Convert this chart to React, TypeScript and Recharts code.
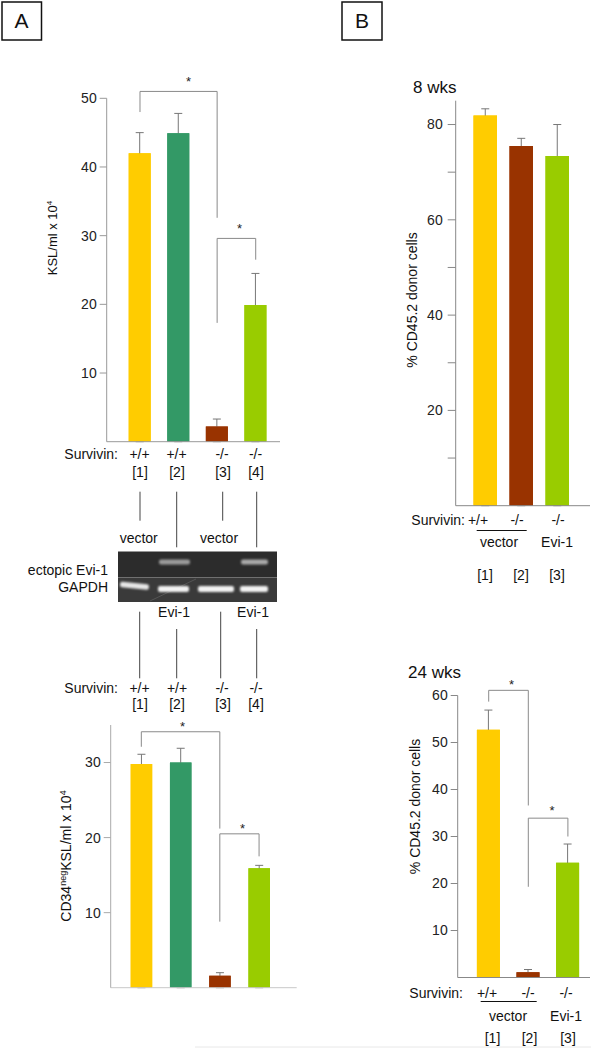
import React from 'react';
import { BarChart, Bar, XAxis, YAxis, ErrorBar, Cell, ReferenceLine } from 'recharts';

const FONT = '"Liberation Sans", Arial, Helvetica, sans-serif';

// ---- Panel A data ----
const groupsA = ['[1]', '[2]', '[3]', '[4]'];
const genotypeA = ['+/+', '+/+', '-/-', '-/-'];
const colorsA = ['#FFCC00', '#339966', '#993300', '#99CC00'];
const kslValues = [42.0, 44.9, 2.2, 19.9];
const kslErrors = [3.0, 2.9, 1.1, 4.6];
const cd34Values = [29.8, 30.0, 1.6, 15.9];
const cd34Errors = [1.3, 1.9, 0.4, 0.4];
const kslTicks = [10, 20, 30, 40, 50];
const cd34Ticks = [10, 20, 30];

// ---- Panel B data ----
const groupsB = ['[1]', '[2]', '[3]'];
const genotypeB = ['+/+', '-/-', '-/-'];
const colorsB = ['#FFCC00', '#993300', '#99CC00'];
const wk8Values = [81.9, 75.5, 73.4];
const wk8Errors = [1.4, 1.6, 6.6];
const wk24Values = [52.7, 1.1, 24.4];
const wk24Errors = [4.2, 0.6, 4.0];
const wk8Ticks = [10, 20, 30, 40, 50, 60, 70, 80];
const wk24Ticks = [10, 20, 30, 40, 50, 60];

type Bracket = { from: string; to: string; top: number; fromEnd: number; toEnd: number; dx: number; off: number };
const kslBrackets: Bracket[] = [
  { from: '[1]', to: '[3]', top: 51, fromEnd: 48, toEnd: 32.6, dx: 10, off: 5 },
  { from: '[3]', to: '[4]', top: 29.6, fromEnd: 17.3, toEnd: 26.5, dx: 3, off: 5 },
];
const cd34Brackets: Bracket[] = [
  { from: '[1]', to: '[3]', top: 34.1, fromEnd: 32.1, toEnd: 21.2, dx: 2, off: 1 },
  { from: '[3]', to: '[4]', top: 20.5, fromEnd: 8.8, toEnd: 17.5, dx: 3, off: 1 },
];
const wk24Brackets: Bracket[] = [
  { from: '[1]', to: '[2]', top: 61.1, fromEnd: 58.7, toEnd: 36.6, dx: 3, off: 1 },
  { from: '[2]', to: '[3]', top: 33.9, fromEnd: 19.3, toEnd: 30, dx: 4, off: 3 },
];

// error bars are one-sided (upward): the lower arm runs down to the baseline and is hidden under the cover bar
const table = (groups: string[], values: number[], errors: number[]) =>
  groups.map((g, i) => ({ g, v: values[i], e: [values[i], errors[i]] }));

function bracketLines(b: Bracket, key: string) {
  const common = { stroke: '#8a8a8a', strokeWidth: 1, ifOverflow: 'visible' as const };
  return [
    <ReferenceLine
      key={key + 'h'}
      segment={[{ x: b.from, y: b.top }, { x: b.to, y: b.top }]}
      {...common}
      label={{ value: '*', position: 'top', offset: b.off, fontSize: 13, fill: '#222', dx: b.dx }}
    />,
    <ReferenceLine key={key + 'l'} segment={[{ x: b.from, y: b.top }, { x: b.from, y: b.fromEnd }]} {...common} />,
    <ReferenceLine key={key + 'r'} segment={[{ x: b.to, y: b.top }, { x: b.to, y: b.toEnd }]} {...common} />,
  ];
}

type ChartProps = {
  left: number; top: number; width: number; height: number;
  margin: { top: number; right: number; bottom: number; left: number };
  data: { g: string; v: number; e: number[] }[];
  colors: string[];
  domain: [number, number];
  ticks: number[];
  tickFmt?: (v: number) => string;
  padding: { left: number; right: number };
  barSize: number;
  tickSize: number;
  tickMargin: number;
  brackets?: Bracket[];
  axisColor?: string;
  xAxisColor?: string;
};

function Chart(p: ChartProps) {
  return (
    <div style={{ position: 'absolute', left: p.left, top: p.top }}>
      <BarChart width={p.width} height={p.height} data={p.data} margin={p.margin}>
        <XAxis
          dataKey="g"
          type="category"
          tick={false}
          tickLine={false}
          height={1}
          padding={p.padding}
          axisLine={{ stroke: p.xAxisColor || '#888' }}
        />
        <XAxis xAxisId="cover" dataKey="g" type="category" hide padding={p.padding} />
        <YAxis
          type="number"
          domain={p.domain}
          allowDataOverflow
          ticks={p.ticks}
          interval={0}
          width={40}
          tickSize={p.tickSize}
          tickMargin={p.tickMargin}
          tickFormatter={p.tickFmt}
          axisLine={{ stroke: p.axisColor || '#888' }}
          tickLine={{ stroke: p.axisColor || '#888' }}
          tick={{ fontSize: 14, fill: '#222' }}
        />
        <Bar dataKey="v" barSize={p.barSize} isAnimationActive={false}>
          {p.data.map((d, i) => (
            <Cell key={d.g} fill={p.colors[i]} />
          ))}
          <ErrorBar dataKey="e" width={4} stroke="#777" strokeWidth={1} direction="y" isAnimationActive={false} />
        </Bar>
        <Bar xAxisId="cover" dataKey="v" barSize={p.barSize} isAnimationActive={false} zIndex={450}>
          {p.data.map((d, i) => (
            <Cell key={d.g} fill={p.colors[i]} />
          ))}
        </Bar>
        {(p.brackets || []).flatMap((b, i) => bracketLines(b, 'b' + i))}
      </BarChart>
    </div>
  );
}

const T = (props: any) => <text fontSize={14} fill="#111" {...props} />;

export default function App() {
  const kslData = table(groupsA, kslValues, kslErrors);
  const cd34Data = table(groupsA, cd34Values, cd34Errors);
  const wk8Data = table(groupsB, wk8Values, wk8Errors);
  const wk24Data = table(groupsB, wk24Values, wk24Errors);

  const topRowX = [139.5, 176.5, 222, 255.5];
  const idxX = [140, 177, 223, 256];
  const bTopGenoX = [478, 517, 558];
  const bTopIdxX = [485, 521, 557];
  const bBotGenoX = [487, 528, 566];
  const bBotIdxX = [492.5, 529.5, 568];

  return (
    <div
      style={{
        position: 'absolute', left: 0, top: 0, width: 591, height: 1048,
        background: '#fff', fontFamily: FONT, overflow: 'hidden',
      }}
    >
      <Chart
        left={0} top={60} width={300} height={400}
        margin={{ top: 38.3, right: 20, bottom: 17.3, left: 66.7 }}
        data={kslData} colors={colorsA} domain={[0, 50]} ticks={kslTicks}
        padding={{ left: 14, right: 5 }} barSize={22} tickSize={7} tickMargin={3}
        brackets={kslBrackets} axisColor="#999" xAxisColor="#999"
      />
      <Chart
        left={0} top={690} width={310} height={310}
        margin={{ top: 35, right: 13.3, bottom: 11.3, left: 70.7 }}
        data={cd34Data} colors={colorsA} domain={[0, 35]} ticks={cd34Ticks}
        padding={{ left: 11, right: 18 }} barSize={21.5} tickSize={7} tickMargin={3}
        brackets={cd34Brackets} axisColor="#aaa" xAxisColor="#c8c8c8"
      />
      <Chart
        left={340} top={90} width={251} height={430}
        margin={{ top: 10.7, right: 1, bottom: 13.3, left: 75.7 }}
        data={wk8Data} colors={colorsB} domain={[0, 85]} ticks={wk8Ticks}
        tickFmt={(v: number) => (v % 20 === 0 ? String(v) : '')}
        padding={{ left: 11.8, right: 14.5 }} barSize={23.5} tickSize={8} tickMargin={5}
        axisColor="#888" xAxisColor="#888"
      />
      <Chart
        left={340} top={660} width={251} height={340}
        margin={{ top: 35.5, right: 1, bottom: 21.5, left: 77.7 }}
        data={wk24Data} colors={colorsB} domain={[0, 60]} ticks={wk24Ticks}
        padding={{ left: 11.2, right: 2.3 }} barSize={23} tickSize={7} tickMargin={3}
        brackets={wk24Brackets} axisColor="#888" xAxisColor="#888"
      />

      <svg
        width={591}
        height={1048}
        style={{ position: 'absolute', left: 0, top: 0, pointerEvents: 'none' }}
        fontFamily={FONT}
      >
        <defs>
          <filter id="blur" x="-20%" y="-50%" width="140%" height="200%">
            <feGaussianBlur stdDeviation="1.2" />
          </filter>
        </defs>

        {/* panel labels */}
        <rect x={2} y={2} width={39.5} height={38} fill="none" stroke="#111" strokeWidth={1.5} />
        <T x={21.5} y={28} fontSize={21} textAnchor="middle">A</T>
        <rect x={342} y={2} width={40} height={38} fill="none" stroke="#111" strokeWidth={1.5} />
        <T x={362} y={28} fontSize={21} textAnchor="middle">B</T>

        {/* axis titles */}
        <text transform="translate(56.7,238) rotate(-90)" textAnchor="middle" fontSize={13} fill="#111">
          KSL/ml x 10<tspan fontSize={8} dy={-5}>4</tspan>
        </text>
        <text transform="translate(71,856) rotate(-90)" textAnchor="middle" fontSize={14} fill="#111">
          CD34<tspan fontSize={9} dy={-5}>neg</tspan>
          <tspan dy={5}>KSL/ml x 10</tspan>
          <tspan fontSize={9} dy={-5}>4</tspan>
        </text>
        <text transform="translate(416.5,300) rotate(-90)" textAnchor="middle" fontSize={14} fill="#111">
          % CD45.2 donor cells
        </text>
        <text transform="translate(419.5,806.5) rotate(-90)" textAnchor="middle" fontSize={14} fill="#111">
          % CD45.2 donor cells
        </text>

        {/* titles */}
        <T x={413} y={92.5} fontSize={17}>8 wks</T>
        <T x={408} y={677.5} fontSize={17}>24 wks</T>

        {/* Panel A top labels */}
        <T x={118} y={458.5} textAnchor="end">Survivin:</T>
        {genotypeA.map((s, i) => (
          <T key={'ga' + i} x={topRowX[i]} y={458.5} textAnchor="middle">{s}</T>
        ))}
        {groupsA.map((s, i) => (
          <T key={'ia' + i} x={idxX[i]} y={477} textAnchor="middle">{s}</T>
        ))}

        {/* connector lines above gel */}
        <g stroke="#444" strokeWidth={1}>
          <line x1={140} x2={140} y1={491.7} y2={520.7} />
          <line x1={176.7} x2={176.7} y1={491.7} y2={547.3} />
          <line x1={222.7} x2={222.7} y1={491.7} y2={520.7} />
          <line x1={256.7} x2={256.7} y1={491.7} y2={547.3} />
        </g>
        <T x={138.7} y={543} textAnchor="middle">vector</T>
        <T x={219} y={543} textAnchor="middle">vector</T>

        {/* gel */}
        <rect x={118} y={551.5} width={159} height={26} fill="#2c2c2c" />
        <rect x={118} y={577.5} width={159} height={24.5} fill="#3a3a3a" />
        <line x1={118} x2={277} y1={577.5} y2={577.5} stroke="#707070" strokeWidth={1} />
        <line x1={150} y1={601} x2={196} y2={579} stroke="#5a5a5a" strokeWidth={0.8} />
        <g filter="url(#blur)">
          <rect x={159} y={559.5} width={31} height={5} rx={2} fill="#9c9c9c" />
          <rect x={241} y={559.5} width={27} height={5} rx={2} fill="#aaaaaa" />
          <rect x={120} y={583} width={29} height={5.5} rx={2} fill="#e6e6e6" transform="rotate(6 134.5 585.5)" />
          <rect x={158} y={586} width={31} height={6} rx={2} fill="#f2f2f2" />
          <rect x={198} y={586} width={36} height={6} rx={2} fill="#f2f2f2" />
          <rect x={240} y={586} width={28} height={6} rx={2} fill="#f2f2f2" />
        </g>
        <T x={108} y={575} textAnchor="end">ectopic Evi-1</T>
        <T x={108} y={592} textAnchor="end">GAPDH</T>
        <T x={174} y={617} textAnchor="middle">Evi-1</T>
        <T x={253} y={617} textAnchor="middle">Evi-1</T>

        {/* connector lines below gel */}
        <g stroke="#444" strokeWidth={1}>
          <line x1={139.7} x2={139.7} y1={611.7} y2={678.3} />
          <line x1={176.7} x2={176.7} y1={629} y2={678.3} />
          <line x1={220.7} x2={220.7} y1={611.7} y2={678.3} />
          <line x1={256.7} x2={256.7} y1={629} y2={678.3} />
        </g>

        <T x={118} y={693} textAnchor="end">Survivin:</T>
        {genotypeA.map((s, i) => (
          <T key={'gb' + i} x={[139.5, 177, 222, 256][i]} y={693} textAnchor="middle">{s}</T>
        ))}
        {groupsA.map((s, i) => (
          <T key={'ib' + i} x={idxX[i]} y={709} textAnchor="middle">{s}</T>
        ))}

        {/* Panel B top labels */}
        <T x={465} y={525} textAnchor="end">Survivin:</T>
        {genotypeB.map((s, i) => (
          <T key={'gc' + i} x={bTopGenoX[i]} y={525} textAnchor="middle">{s}</T>
        ))}
        <line x1={476.7} x2={526.7} y1={530.5} y2={530.5} stroke="#111" strokeWidth={1} />
        <T x={499} y={547} textAnchor="middle">vector</T>
        <T x={557} y={547} textAnchor="middle">Evi-1</T>
        {groupsB.map((s, i) => (
          <T key={'ic' + i} x={bTopIdxX[i]} y={580} textAnchor="middle">{s}</T>
        ))}

        {/* Panel B bottom labels */}
        <T x={463} y={997.5} textAnchor="end">Survivin:</T>
        {genotypeB.map((s, i) => (
          <T key={'gd' + i} x={bBotGenoX[i]} y={997.5} textAnchor="middle">{s}</T>
        ))}
        <line x1={480.7} x2={536.7} y1={1001.5} y2={1001.5} stroke="#111" strokeWidth={1} />
        <T x={508} y={1020.5} textAnchor="middle">vector</T>
        <T x={566} y={1020.5} textAnchor="middle">Evi-1</T>
        {groupsB.map((s, i) => (
          <T key={'id' + i} x={bBotIdxX[i]} y={1043} textAnchor="middle">{s}</T>
        ))}
        <line x1={195} x2={591} y1={1047} y2={1047} stroke="#e8e8e8" strokeWidth={1} />
      </svg>
    </div>
  );
}
